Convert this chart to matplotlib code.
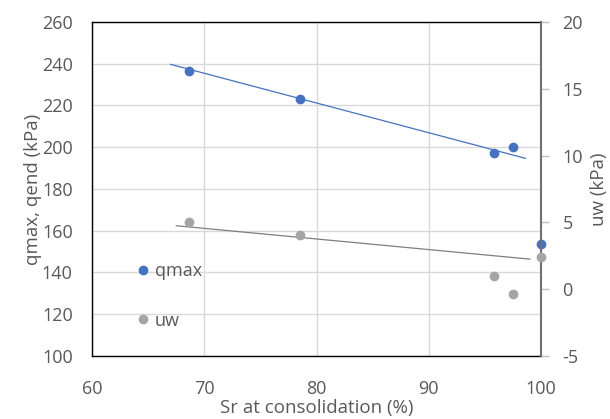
import matplotlib
matplotlib.use('Agg')
import matplotlib.pyplot as plt

plt.rcParams['font.family'] = ['Open Sans', 'DejaVu Sans']
plt.rcParams['axes.unicode_minus'] = False

# Sr at consolidation (%) for each test
sr = [68.6, 78.5, 95.8, 97.5, 100.0]
qmax = [236.5, 223.1, 197.2, 200.1, 153.7]
uw = [5.0, 4.05, 1.0, -0.35, 2.4]

# linear trend lines (end points)
trend_q_x = [67.0, 98.6]
trend_q_y = [239.7, 194.7]
trend_u_x = [67.5, 99.0]
trend_u_y = [4.75, 2.25]

txt = '#595959'
blue = '#4472C4'
grey = '#A5A5A5'

fig = plt.figure(figsize=(6.1, 4.19), dpi=100)
ax = fig.add_axes([0.151, 0.1504, 0.736, 0.7971])
ax2 = ax.twinx()

ax.plot(trend_q_x, trend_q_y, color=blue, linewidth=0.9, zorder=3)
ax.plot(sr, qmax, 'o', color=blue, markersize=6, clip_on=False, zorder=4, label='qmax')
ax2.plot(trend_u_x, trend_u_y, color='#7F7F7F', linewidth=0.9, zorder=3)
ax2.plot(sr, uw, 'o', color=grey, markersize=6, clip_on=False, zorder=4, label='uw')

ax.set_xlim(60, 100)
ax.set_ylim(100, 260)
ax.set_xticks([60, 70, 80, 90, 100])
ax.set_yticks(range(100, 261, 20))
ax2.set_ylim(-5, 20)
ax2.set_yticks(range(-5, 21, 5))

ax.grid(True, color='#D9D9D9', linewidth=1)
ax.set_axisbelow(True)

ax.tick_params(axis='both', length=0, labelsize=13, labelcolor=txt)
ax.tick_params(axis='y', pad=14)
ax.tick_params(axis='x', pad=17)
ax2.tick_params(axis='y', length=5.5, width=1, color='#BFBFBF', labelsize=13,
                labelcolor=txt, pad=10)

for s in ['left', 'top', 'bottom']:
    ax.spines[s].set_color('black')
    ax.spines[s].set_linewidth(1)
for s in ['left', 'top', 'bottom']:
    ax2.spines[s].set_visible(False)
ax.spines['right'].set_visible(False)
ax2.spines['right'].set_color('#707070')
ax2.spines['right'].set_linewidth(1.5)

ax.set_xlabel('Sr at consolidation (%)', fontsize=13.5, color=txt, labelpad=1)
ax.set_ylabel('qmax, qend (kPa)', fontsize=13.5, color=txt, labelpad=0)
ax2.set_ylabel('uw (kPa)', fontsize=13.5, color=txt, labelpad=5)

# legend sits inside the plot, lower left
h1, l1 = ax.get_legend_handles_labels()
h2, l2 = ax2.get_legend_handles_labels()
ax2.legend(h1 + h2, l1 + l2, loc='lower left', bbox_to_anchor=(0.065, 0.03),
           frameon=False, fontsize=13, labelcolor=txt, handlelength=0.6,
           handletextpad=0.35, labelspacing=1.75, markerscale=1.0)

fig.savefig('out.png', dpi=100)
